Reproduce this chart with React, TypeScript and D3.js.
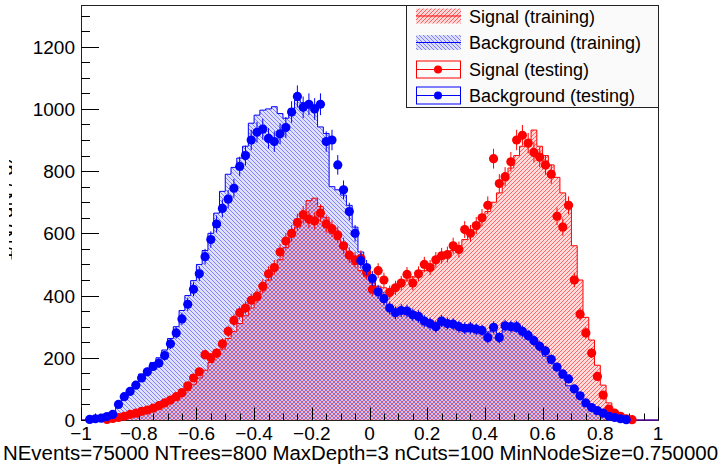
import { useEffect, useRef } from 'react';
import * as d3 from 'd3';

// histogram range of the BDT response
const X_MIN = -1;
const X_MAX = 1;
const Y_MAX = 1334;

// 100 bins
const sigTrain = [
  0, 0, 0, 0, 1, 3, 6, 9, 13, 17,
  22, 27, 33, 40, 47, 55, 65, 78, 95, 115,
  135, 160, 185, 205, 228, 262, 284, 310, 335, 360,
  385, 415, 450, 480, 515, 555, 590, 620, 650, 705,
  713, 686, 650, 600, 580, 555, 525, 500, 480, 460,
  440, 430, 425, 420, 430, 445, 450, 460, 470, 480,
  495, 505, 520, 530, 545, 560, 580, 600, 620, 640,
  670, 700, 730, 770, 810, 850, 880, 900, 932, 880,
  850, 820, 780, 730, 700, 560, 450, 330, 257, 176,
  112, 55, 25, 10, 3, 1, 0, 0, 0, 0,
];
const bkgTrain = [
  0, 1, 3, 7, 13, 25, 48, 70, 96, 118,
  148, 160, 185, 200, 225, 262, 300, 352, 400, 448,
  500, 545, 600, 665, 735, 790, 812, 842, 880, 954,
  980, 996, 1000, 1007, 985, 970, 1000, 1028, 1020, 1012,
  1012, 942, 921, 750, 740, 723, 690, 620, 540, 480,
  455, 420, 380, 370, 350, 345, 340, 335, 325, 320,
  312, 310, 305, 315, 300, 296, 305, 290, 293, 280,
  283, 290, 278, 290, 295, 285, 282, 260, 252, 241,
  205, 183, 160, 135, 110, 96, 70, 52, 38, 25,
  15, 10, 5, 2, 1, 0, 0, 0, 0, 0,
];
const sigTest = [
  0, 0, 0, 0, 2, 5, 8, 12, 18, 22,
  28, 32, 38, 46, 55, 64, 75, 88, 110, 135,
  155, 210, 200, 215, 245, 285, 320, 345, 360, 385,
  398, 430, 470, 490, 540, 575, 600, 635, 660, 645,
  640, 665, 630, 615, 595, 560, 530, 515, 520, 475,
  420, 480, 450, 410, 425, 440, 468, 440, 470, 500,
  490, 515, 528, 532, 560, 548, 612, 600, 625, 650,
  690, 840, 760, 782, 830, 900, 915, 890, 860, 845,
  820, 790, 655, 620, 690, 450, 340, 280, 215, 140,
  80, 35, 22, 12, 4, 1, 0, 0, 0, 0,
];
const bkgTest = [
  0, 2, 4, 6, 11, 18, 50, 75, 92, 112,
  135, 155, 172, 183, 207, 245, 280, 325, 372, 420,
  470, 525, 580, 630, 680, 710, 745, 815, 850, 900,
  925, 935, 905, 895, 920, 940, 990, 1040, 1005, 1015,
  1000, 1015, 895, 900, 820, 740, 670, 600, 512, 490,
  455, 412, 390, 360, 345, 352, 350, 338, 333, 318,
  310, 300, 318, 310, 308, 300, 295, 296, 292, 288,
  265, 298, 265, 303, 300, 300, 285, 272, 255, 237,
  222, 195, 170, 148, 132, 100, 78, 55, 40, 30,
  22, 12, 8, 4, 1, 0, 0, 0, 0, 0,
];

const legendLabels = ['Signal (training)', 'Background (training)', 'Signal (testing)', 'Background (testing)'];
const yTitle = '(1/N) dN / dx';
const xTitle = 'NEvents=75000 NTrees=800 MaxDepth=3 nCuts=100 MinNodeSize=0.750000';

const SIG = '#ff0000';
const BKG = '#0000ff';

const App = () => {
  const svgRef = useRef(null);

  useEffect(() => {
    document.body.style.margin = '0';
    const svg = d3.select(svgRef.current);
    svg.selectAll('*').remove();

    const W = 724, H = 472;
    const left = 81, right = 658, top = 5, bottom = 420;
    svg.attr('width', W).attr('height', H)
      .style('font-family', '"Liberation Sans", Arial, Helvetica, sans-serif');

    const nBins = sigTrain.length;
    const binW = (X_MAX - X_MIN) / nBins;
    const x = d3.scaleLinear().domain([X_MIN, X_MAX]).range([left, right]);
    const y = d3.scaleLinear().domain([0, Y_MAX]).range([bottom, top]);

    // pixel hatch patterns with a light tint underneath
    const defs = svg.append('defs');
    const pixPattern = (id: string, cells: number[][], color: string, tint: number, op: number) => {
      const p = defs.append('pattern').attr('id', id)
        .attr('patternUnits', 'userSpaceOnUse').attr('width', 4).attr('height', 4);
      p.append('rect').attr('width', 4).attr('height', 4)
        .attr('fill', color).attr('fill-opacity', tint);
      cells.forEach(([cx, cy]) => {
        p.append('rect').attr('x', cx).attr('y', cy).attr('width', 1).attr('height', 1)
          .attr('fill', color).attr('fill-opacity', op);
      });
    };
    pixPattern('sigHatch', [[3, 0], [2, 1], [1, 2], [0, 3]], SIG, 0.14, 0.55);
    pixPattern('bkgHatch', [[0, 0], [1, 1], [2, 2], [3, 3]], BKG, 0.12, 0.42);
    defs.append('clipPath').attr('id', 'ytclip')
      .append('rect').attr('x', 9).attr('y', 160).attr('width', 3).attr('height', 102);

    svg.append('rect').attr('width', W).attr('height', H).attr('fill', '#fff');

    // histograms as steps
    const steps = (vals: number[]) =>
      vals.map((v, i) => [X_MIN + i * binW, v]).concat([[X_MAX, vals[vals.length - 1]]]);
    const area = d3.area().curve(d3.curveStepAfter)
      .x(d => x(d[0])).y0(y(0)).y1(d => y(d[1]));
    const line = d3.line().curve(d3.curveStepAfter)
      .x(d => x(d[0])).y(d => y(d[1]));

    svg.append('path').attr('d', area(steps(sigTrain))).attr('fill', 'url(#sigHatch)');
    svg.append('path').attr('d', area(steps(bkgTrain))).attr('fill', 'url(#bkgHatch)');

    // frame
    svg.append('rect').attr('x', left + 0.5).attr('y', top + 0.5)
      .attr('width', right - left).attr('height', bottom - top)
      .attr('fill', 'none').attr('stroke', '#222').attr('stroke-width', 1);

    svg.append('path').attr('d', line(steps(sigTrain))).attr('fill', 'none')
      .attr('stroke', SIG).attr('stroke-width', 1);
    svg.append('path').attr('d', line(steps(bkgTrain))).attr('fill', 'none')
      .attr('stroke', BKG).attr('stroke-width', 1);

    // x ticks
    const xg = svg.append('g');
    d3.range(-20, 21).forEach(k => {
      const v = k * 0.05;
      const major = k % 4 === 0;
      const px = Math.round(x(v)) + 0.5;
      xg.append('line').attr('x1', px).attr('x2', px)
        .attr('y1', bottom).attr('y2', bottom - (major ? 12.5 : 6.5))
        .attr('stroke', '#000').attr('stroke-width', 1);
    });
    const fmt = d3.format('~g');
    d3.range(-5, 6).forEach(k => {
      const v = k * 0.2;
      xg.append('text').attr('x', x(v)).attr('y', 439.5)
        .attr('text-anchor', 'middle').attr('font-size', 19).attr('fill', '#000')
        .text(fmt(+v.toFixed(1)));
    });

    // y ticks
    const yg = svg.append('g');
    d3.range(0, 27).forEach(k => {
      const v = k * 50;
      const major = k % 4 === 0;
      const py = Math.round(y(v)) + 0.5;
      yg.append('line').attr('x1', left).attr('x2', left + (major ? 18 : 9))
        .attr('y1', py).attr('y2', py).attr('stroke', '#000').attr('stroke-width', 1);
    });
    d3.range(0, 7).forEach(k => {
      const v = k * 200;
      yg.append('text').attr('x', 75).attr('y', y(v) + 7)
        .attr('text-anchor', 'end').attr('font-size', 19).attr('fill', '#000')
        .text(fmt(v));
    });

    // testing points with error bars
    const drawPoints = (vals: number[], color: string) => {
      const g = svg.append('g');
      vals.forEach((v, i) => {
        if (v <= 0) return;
        const cx = x(X_MIN + (i + 0.5) * binW);
        const e = Math.sqrt(v) * 1.1;
        g.append('line').attr('x1', cx).attr('x2', cx)
          .attr('y1', y(v - e)).attr('y2', y(v + e))
          .attr('stroke', color).attr('stroke-width', 1);
        g.append('circle').attr('cx', cx).attr('cy', y(v)).attr('r', 4.6).attr('fill', color);
      });
    };
    drawPoints(sigTest, SIG);
    drawPoints(bkgTest, BKG);

    // legend
    const lg = svg.append('g');
    lg.append('rect').attr('x', 406.5).attr('y', 5.5).attr('width', 252).attr('height', 102)
      .attr('fill', '#fafafa').attr('stroke', '#222').attr('stroke-width', 1);
    const rowY = [16, 42.5, 69.5, 95.5];
    legendLabels.forEach((label, i) => {
      const cy = rowY[i];
      const color = i % 2 === 0 ? SIG : BKG;
      if (i < 2) {
        lg.append('rect').attr('x', 416).attr('y', cy - 7.5).attr('width', 45).attr('height', 15)
          .attr('fill', i === 0 ? 'url(#sigHatch)' : 'url(#bkgHatch)');
        lg.append('line').attr('x1', 416).attr('x2', 461).attr('y1', cy).attr('y2', cy)
          .attr('stroke', color).attr('stroke-width', 1);
      } else {
        lg.append('rect').attr('x', 416.5).attr('y', cy - 8.5).attr('width', 44).attr('height', 17)
          .attr('fill', 'none').attr('stroke', color).attr('stroke-width', 1);
        lg.append('line').attr('x1', 416).attr('x2', 461).attr('y1', cy).attr('y2', cy)
          .attr('stroke', color).attr('stroke-width', 1);
        lg.append('circle').attr('cx', 438).attr('cy', cy).attr('r', 4).attr('fill', color);
      }
      lg.append('text').attr('x', 469).attr('y', cy + 6.5)
        .attr('font-size', 18).attr('fill', '#000').text(label);
    });

    // axis titles (the y title sits mostly off the canvas, as in the original)
    svg.append('g').attr('clip-path', 'url(#ytclip)')
      .append('text').attr('transform', 'translate(13,211) rotate(-90)')
      .attr('text-anchor', 'middle').attr('font-size', 20).attr('fill', '#000')
      .text(yTitle);
    svg.append('text').attr('x', 3).attr('y', 459.5)
      .attr('font-size', 20).attr('fill', '#000')
      .attr('textLength', 715).attr('lengthAdjust', 'spacingAndGlyphs')
      .text(xTitle);
  }, []);

  return <svg ref={svgRef} style={{ position: 'absolute', left: 0, top: 0 }}></svg>;
};

export default App;
